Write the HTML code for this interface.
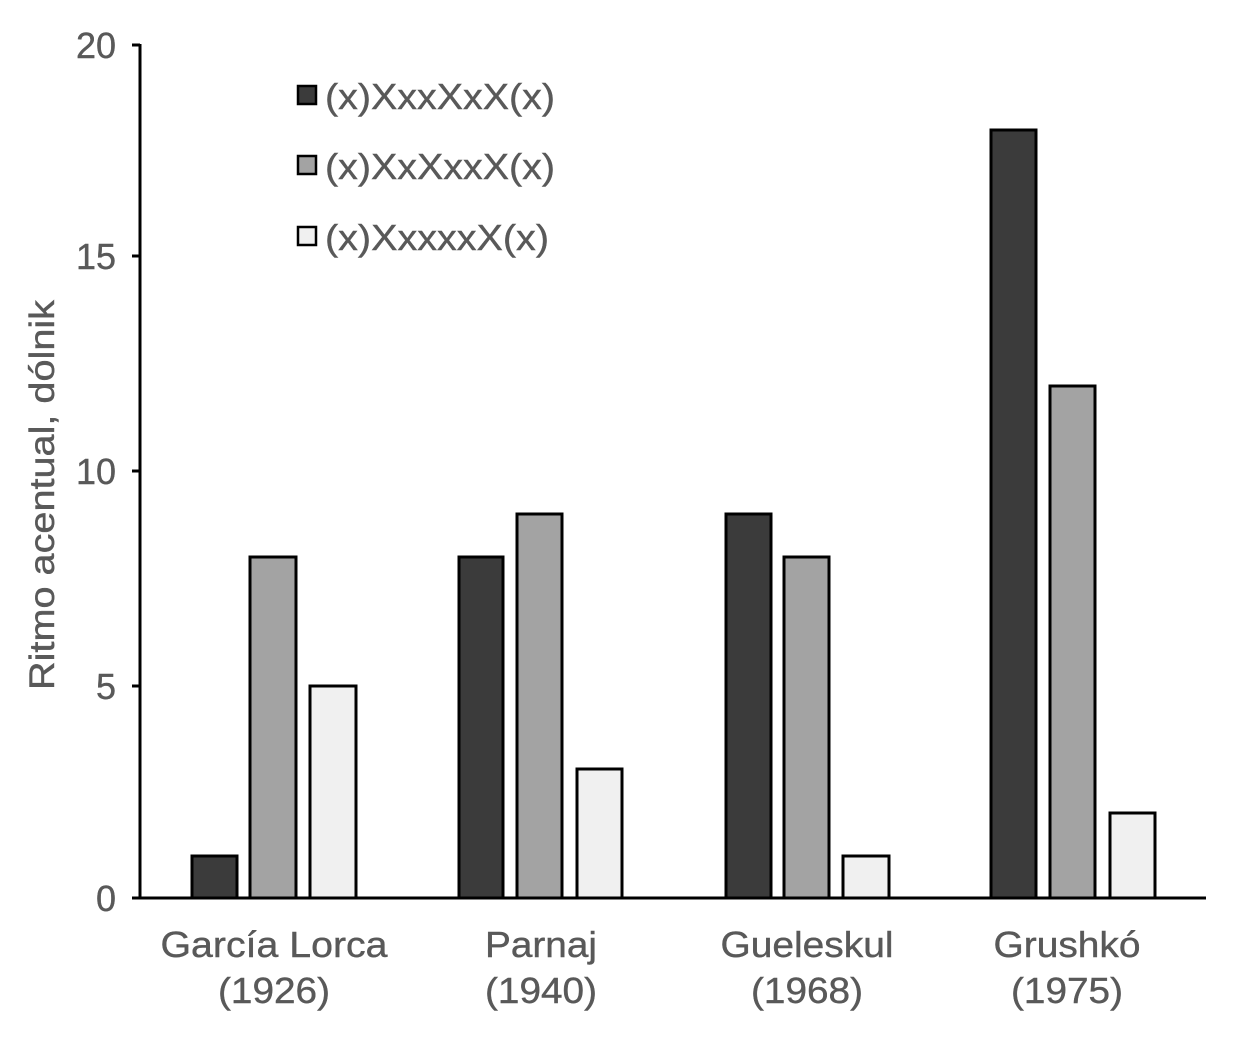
<!DOCTYPE html>
<html><head><meta charset="utf-8"><style>
html,body{margin:0;padding:0;background:#fff;}
svg{display:block;font-family:"Liberation Sans",Arial,sans-serif;}
</style></head><body>
<svg width="1249" height="1044" viewBox="0 0 1249 1044" xmlns="http://www.w3.org/2000/svg">
<g fill="#595959" font-size="36" text-anchor="end" stroke="#595959" stroke-width="0.4">
<text x="116" y="58">20</text>
<text x="116" y="269">15</text>
<text x="116" y="484">10</text>
<text x="116" y="699">5</text>
<text x="116" y="911">0</text>
</g>
<text transform="translate(54,495) rotate(-90)" text-anchor="middle" fill="#595959" font-size="35" textLength="390" lengthAdjust="spacingAndGlyphs" stroke="#595959" stroke-width="0.4">Ritmo acentual, dólnik</text>
<g stroke="#000" stroke-width="3">
<line x1="140" y1="44" x2="140" y2="898"/>
<line x1="139" y1="898" x2="1206" y2="898"/>
<line x1="132" y1="45" x2="140" y2="45"/>
<line x1="132" y1="256" x2="140" y2="256"/>
<line x1="132" y1="471" x2="140" y2="471"/>
<line x1="132" y1="686" x2="140" y2="686"/>
<line x1="132" y1="898" x2="140" y2="898"/>
</g>
<g stroke="#000" stroke-width="3">
<rect x="192" y="856" width="45" height="42" fill="#3b3b3b"/>
<rect x="250" y="557" width="46" height="341" fill="#a3a3a3"/>
<rect x="310" y="686" width="46" height="212" fill="#f0f0f0"/>
<rect x="459" y="557" width="44" height="341" fill="#3b3b3b"/>
<rect x="517" y="514" width="45" height="384" fill="#a3a3a3"/>
<rect x="577" y="769" width="45" height="129" fill="#f0f0f0"/>
<rect x="726" y="514" width="45" height="384" fill="#3b3b3b"/>
<rect x="784" y="557" width="45" height="341" fill="#a3a3a3"/>
<rect x="843" y="856" width="46" height="42" fill="#f0f0f0"/>
<rect x="991" y="130" width="45" height="768" fill="#3b3b3b"/>
<rect x="1050" y="386" width="45" height="512" fill="#a3a3a3"/>
<rect x="1110" y="813" width="45" height="85" fill="#f0f0f0"/>
</g>
<g stroke="#000" stroke-width="2.5">
<rect x="298" y="86" width="18" height="18" fill="#3b3b3b"/>
<rect x="298" y="156" width="18" height="18" fill="#a3a3a3"/>
<rect x="298" y="227" width="18" height="18" fill="#f0f0f0"/>
</g>
<g fill="#595959" font-size="36" stroke="#595959" stroke-width="0.4">
<text x="325" y="109" textLength="230" lengthAdjust="spacingAndGlyphs">(x)XxxXxX(x)</text>
<text x="325" y="179" textLength="230" lengthAdjust="spacingAndGlyphs">(x)XxXxxX(x)</text>
<text x="325" y="250" textLength="224" lengthAdjust="spacingAndGlyphs">(x)XxxxxX(x)</text>
</g>
<g fill="#595959" font-size="36" text-anchor="middle" stroke="#595959" stroke-width="0.4" lengthAdjust="spacingAndGlyphs">
<text x="274" y="957" textLength="227" lengthAdjust="spacingAndGlyphs">García Lorca</text><text x="274" y="1003" textLength="112" lengthAdjust="spacingAndGlyphs">(1926)</text>
<text x="541" y="957" textLength="112" lengthAdjust="spacingAndGlyphs">Parnaj</text><text x="541" y="1003" textLength="112" lengthAdjust="spacingAndGlyphs">(1940)</text>
<text x="807" y="957" textLength="173" lengthAdjust="spacingAndGlyphs">Gueleskul</text><text x="807" y="1003" textLength="112" lengthAdjust="spacingAndGlyphs">(1968)</text>
<text x="1067" y="957" textLength="147" lengthAdjust="spacingAndGlyphs">Grushkó</text><text x="1067" y="1003" textLength="112" lengthAdjust="spacingAndGlyphs">(1975)</text>
</g>
</svg>
</body></html>
